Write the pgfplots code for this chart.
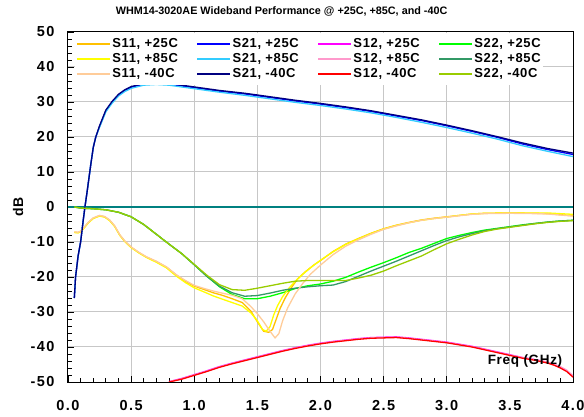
\documentclass[border=0pt]{standalone}
\usepackage{fontspec}
\setmainfont{Liberation Sans}
\newfontfamily\lsfont{Liberation Sans}[LetterSpace=5]
\newfontfamily\tkfont{Liberation Sans}[LetterSpace=10]
\usepackage{pgfplots}
\pgfplotsset{compat=1.18}
\definecolor{sAa}{HTML}{FFC000}
\definecolor{sAb}{HTML}{FFFF00}
\definecolor{sAc}{HTML}{FFCC99}
\definecolor{sBa}{HTML}{0000FF}
\definecolor{sBb}{HTML}{33CCFF}
\definecolor{sBc}{HTML}{000080}
\definecolor{sCa}{HTML}{FF00FF}
\definecolor{sCb}{HTML}{FF99CC}
\definecolor{sCc}{HTML}{FF0000}
\definecolor{sDa}{HTML}{00FF00}
\definecolor{sDb}{HTML}{339966}
\definecolor{sDc}{HTML}{99CC00}
\definecolor{teal0}{HTML}{008080}
\begin{document}
\begin{tikzpicture}
\begin{axis}[
  at={(0,0)}, anchor=south west,
  scale only axis, width=505bp, height=350bp,
  xmin=0, xmax=4, ymin=-50, ymax=50,
  xtick={0,0.5,...,4}, ytick={-50,-40,...,50},
  minor x tick num=4, minor y tick num=4,
  tick pos=left, tick align=inside,
  major tick length=6bp, minor tick length=4bp,
  every tick/.style={black, line width=0.8bp},
  axis line style={black, line width=1bp},
  grid=major, major grid style={color=black!22, line width=1bp},
  /pgf/number format/assume math mode=true,
  tick label style={font=\tkfont\fontsize{14.5bp}{16bp}\selectfont\bfseries},
  yticklabel style={xshift=-10bp},
  xticklabel style={yshift=-15bp, /pgf/number format/fixed, /pgf/number format/fixed zerofill, /pgf/number format/precision=1},
  title={WHM14-3020AE Wideband Performance @ +25C, +85C, and -40C},
  title style={at={(axis description cs:0.423,1)}, anchor=base, yshift=12bp, inner sep=0pt, font=\fontsize{10.8bp}{13bp}\selectfont\bfseries},
  xlabel={Freq (GHz)},
  xlabel style={at={(axis description cs:0.905,0.06)}, anchor=center, inner sep=0pt, font=\lsfont\fontsize{13.5bp}{16bp}\selectfont\bfseries},
  ylabel={dB},
  ylabel style={at={(axis description cs:-0.099,0.5)}, anchor=center, inner sep=0pt, font=\lsfont\fontsize{14bp}{16bp}\selectfont\bfseries},
  legend columns=4,
  legend cell align=left,
  legend image code/.code={\draw[#1, line width=1.6bp] (0bp,0bp) -- (33bp,0bp);},
  legend style={at={(0,1)}, anchor=north west, xshift=7bp, yshift=-1bp, draw=none, fill=white,
    inner xsep=1bp, inner ysep=3.5bp, row sep=0.5bp,
    font=\lsfont\fontsize{13bp}{15bp}\selectfont\bfseries,
    nodes={inner sep=1.5bp, text height=9.5bp, text depth=2bp},
    /tikz/every even column/.append style={column sep=17bp}},
  every axis plot/.append style={line width=1.3bp},
]
\addplot[teal0, line width=1.2bp, forget plot] coordinates {(0,0)(4,0)};
% ---- +25C
\addplot[sAa] coordinates {(0.05,-7.2)(0.08,-7.3)(0.1,-7.0)(0.13,-5.8)(0.16,-4.5)(0.2,-3.2)(0.25,-2.5)(0.29,-2.8)(0.33,-3.8)(0.37,-5.5)(0.41,-8.0)(0.45,-9.8)(0.5,-11.5)(0.56,-13.0)(0.62,-14.3)(0.7,-15.6)(0.78,-17.2)(0.86,-19.5)(0.93,-21.2)(1.0,-22.6)(1.08,-23.6)(1.15,-24.5)(1.22,-25.2)(1.3,-26.2)(1.38,-27.3)(1.45,-29.8)(1.5,-32.8)(1.55,-35.5)(1.59,-35.8)(1.62,-35.0)(1.65,-32.0)(1.68,-29.0)(1.72,-26.0)(1.77,-23.0)(1.82,-20.5)(1.88,-18.5)(1.95,-16.5)(2.0,-15.3)(2.1,-12.7)(2.2,-10.6)(2.3,-9.0)(2.4,-7.5)(2.5,-6.2)(2.6,-5.2)(2.7,-4.4)(2.8,-3.7)(2.9,-3.2)(3.0,-2.8)(3.1,-2.4)(3.2,-2.0)(3.3,-1.8)(3.5,-1.7)(3.7,-1.8)(3.8,-1.9)(3.9,-2.2)(4.0,-2.5)};
\addlegendentry{S11, +25C}
\addplot[sBa] coordinates {(0.05,-26)(0.06,-20)(0.08,-14)(0.10,-10)(0.12,-4)(0.134,0)(0.15,4)(0.165,8)(0.18,12)(0.2,17)(0.22,20)(0.25,23)(0.3,27.5)(0.35,30)(0.4,32)(0.45,33.3)(0.5,34.2)(0.6,35.1)(0.7,35.3)(0.8,35.1)(0.9,34.6)(1.0,34.1)(1.2,33.1)(1.4,32.3)(1.6,31.3)(1.8,30.3)(2.0,29.4)(2.2,28.4)(2.4,27.3)(2.6,26.0)(2.8,24.7)(3.0,23.2)(3.2,21.6)(3.4,19.9)(3.6,18.0)(3.8,16.4)(4.0,15.0)};
\addlegendentry{S21, +25C}
\addplot[sCa] coordinates {(0.8,-49.9)(0.9,-49.0)(1.0,-47.9)(1.1,-46.8)(1.2,-45.6)(1.3,-44.6)(1.4,-43.7)(1.5,-42.8)(1.6,-41.9)(1.7,-41.0)(1.8,-40.2)(1.9,-39.5)(2.0,-38.9)(2.1,-38.4)(2.2,-38.0)(2.3,-37.6)(2.4,-37.3)(2.5,-37.2)(2.6,-37.1)(2.7,-37.4)(2.8,-37.8)(2.9,-38.2)(3.0,-38.6)(3.1,-39.2)(3.2,-39.8)(3.3,-40.6)(3.4,-41.4)(3.5,-42.2)(3.6,-43.0)(3.7,-43.6)(3.8,-44.4)(3.85,-45.0)(3.9,-45.8)(3.95,-46.8)(4.0,-48.4)};
\addlegendentry{S12, +25C}
\addplot[sDa] coordinates {(0.05,0)(0.1,-0.3)(0.2,-0.5)(0.3,-0.8)(0.4,-1.5)(0.5,-2.8)(0.6,-5.0)(0.7,-7.8)(0.8,-10.6)(0.9,-13.3)(1.0,-16.5)(1.1,-19.8)(1.2,-22.8)(1.3,-25.0)(1.4,-26.2)(1.5,-26.2)(1.6,-25.5)(1.7,-24.5)(1.8,-23.3)(1.9,-22.5)(2.0,-22.0)(2.1,-21.2)(2.2,-20.1)(2.3,-18.6)(2.4,-17.2)(2.5,-15.9)(2.6,-14.5)(2.7,-13.0)(2.8,-11.8)(2.9,-10.4)(3.0,-9.0)(3.1,-8.1)(3.2,-7.3)(3.3,-6.6)(3.4,-6.1)(3.5,-5.6)(3.6,-5.1)(3.7,-4.7)(3.8,-4.3)(3.9,-4.0)(4.0,-3.8)};
\addlegendentry{S22, +25C}
% ---- +85C
\addplot[sAb] coordinates {(0.05,-7.3)(0.08,-7.4)(0.1,-7.1)(0.13,-5.9)(0.16,-4.6)(0.2,-3.3)(0.25,-2.6)(0.29,-2.9)(0.33,-3.9)(0.37,-5.6)(0.41,-8.1)(0.45,-9.9)(0.5,-11.6)(0.56,-13.1)(0.62,-14.4)(0.7,-15.8)(0.78,-17.4)(0.86,-19.8)(0.93,-21.6)(1.0,-23.1)(1.08,-24.3)(1.15,-25.4)(1.22,-26.3)(1.3,-27.3)(1.38,-28.3)(1.45,-30.3)(1.5,-32.5)(1.54,-35.0)(1.57,-35.5)(1.6,-34.2)(1.63,-30.8)(1.66,-28.2)(1.7,-25.6)(1.75,-23.2)(1.8,-21.2)(1.86,-19.2)(1.93,-17.1)(2.0,-15.2)(2.1,-12.8)(2.2,-10.7)(2.3,-9.1)(2.4,-7.6)(2.5,-6.3)(2.6,-5.3)(2.7,-4.5)(2.8,-3.8)(2.9,-3.3)(3.0,-2.9)(3.1,-2.4)(3.2,-2.0)(3.3,-1.8)(3.5,-1.7)(3.7,-1.7)(3.8,-1.7)(3.9,-1.9)(4.0,-2.1)};
\addlegendentry{S11, +85C}
\addplot[sBb] coordinates {(0.05,-26)(0.06,-20)(0.08,-14)(0.10,-10)(0.12,-4)(0.134,0)(0.15,4)(0.165,8)(0.18,12)(0.2,17)(0.22,20)(0.25,22.8)(0.3,27.2)(0.35,29.7)(0.4,31.7)(0.45,33.0)(0.5,33.9)(0.6,34.8)(0.7,35.0)(0.8,34.8)(0.9,34.3)(1.0,33.8)(1.2,32.8)(1.4,31.9)(1.6,30.9)(1.8,29.9)(2.0,29.0)(2.2,28.0)(2.4,26.9)(2.6,25.6)(2.8,24.2)(3.0,22.7)(3.2,21.1)(3.4,19.4)(3.6,17.5)(3.8,15.9)(4.0,14.4)};
\addlegendentry{S21, +85C}
\addplot[sCb] coordinates {(0.8,-49.9)(0.9,-49.1)(1.0,-48.0)(1.1,-46.9)(1.2,-45.7)(1.3,-44.7)(1.4,-43.8)(1.5,-42.9)(1.6,-42.0)(1.7,-41.1)(1.8,-40.3)(1.9,-39.6)(2.0,-39.0)(2.1,-38.5)(2.2,-38.1)(2.3,-37.7)(2.4,-37.4)(2.5,-37.3)(2.6,-37.2)(2.7,-37.5)(2.8,-37.9)(2.9,-38.3)(3.0,-38.7)(3.1,-39.3)(3.2,-39.9)(3.3,-40.7)(3.4,-41.5)(3.5,-42.3)(3.6,-43.0)(3.7,-43.6)(3.8,-44.3)(3.85,-44.9)(3.9,-45.6)(3.95,-46.6)(4.0,-48.2)};
\addlegendentry{S12, +85C}
\addplot[sDb] coordinates {(0.05,0)(0.1,-0.3)(0.2,-0.5)(0.3,-0.8)(0.4,-1.5)(0.5,-2.8)(0.6,-5.0)(0.7,-7.8)(0.8,-10.6)(0.9,-13.3)(1.0,-16.5)(1.1,-19.8)(1.2,-22.6)(1.3,-24.5)(1.4,-25.5)(1.5,-25.3)(1.6,-24.6)(1.7,-23.8)(1.8,-23.2)(1.9,-22.8)(2.0,-22.5)(2.1,-22.3)(2.2,-21.3)(2.3,-19.8)(2.4,-18.3)(2.5,-16.9)(2.6,-15.5)(2.7,-14.0)(2.8,-12.5)(2.9,-11.0)(3.0,-9.6)(3.1,-8.5)(3.2,-7.6)(3.3,-6.8)(3.4,-6.2)(3.5,-5.7)(3.6,-5.2)(3.7,-4.7)(3.8,-4.3)(3.9,-4.0)(4.0,-3.8)};
\addlegendentry{S22, +85C}
% ---- -40C
\addplot[sAc] coordinates {(0.05,-7.1)(0.08,-7.2)(0.1,-6.9)(0.13,-5.7)(0.16,-4.4)(0.2,-3.1)(0.25,-2.4)(0.29,-2.7)(0.33,-3.7)(0.37,-5.4)(0.41,-7.9)(0.45,-9.7)(0.5,-11.4)(0.56,-12.9)(0.62,-14.2)(0.7,-15.5)(0.78,-17.1)(0.86,-19.4)(0.93,-21.0)(1.0,-22.4)(1.08,-23.3)(1.15,-24.0)(1.22,-24.6)(1.3,-25.2)(1.38,-26.2)(1.45,-28.5)(1.5,-30.5)(1.55,-32.8)(1.6,-35.5)(1.64,-37.4)(1.67,-36.2)(1.7,-32.5)(1.74,-28.8)(1.8,-24.8)(1.86,-21.8)(1.92,-19.2)(2.0,-16.6)(2.1,-13.6)(2.2,-11.2)(2.3,-9.4)(2.4,-7.8)(2.5,-6.4)(2.6,-5.4)(2.7,-4.5)(2.8,-3.8)(2.9,-3.3)(3.0,-2.9)(3.1,-2.5)(3.2,-2.1)(3.3,-1.9)(3.5,-1.8)(3.7,-1.9)(3.8,-2.0)(3.9,-2.3)(4.0,-2.6)};
\addlegendentry{S11, -40C}
\addplot[sBc] coordinates {(0.05,-26)(0.06,-20)(0.08,-14)(0.10,-10)(0.12,-4)(0.134,0)(0.15,4)(0.165,8)(0.18,12)(0.2,17)(0.22,20)(0.25,23.2)(0.3,27.7)(0.35,30.2)(0.4,32.2)(0.45,33.5)(0.5,34.4)(0.6,35.3)(0.7,35.5)(0.8,35.3)(0.9,34.8)(1.0,34.3)(1.2,33.3)(1.4,32.5)(1.6,31.5)(1.8,30.5)(2.0,29.6)(2.2,28.6)(2.4,27.5)(2.6,26.2)(2.8,24.9)(3.0,23.4)(3.2,21.8)(3.4,20.1)(3.6,18.3)(3.8,16.7)(4.0,15.4)};
\addlegendentry{S21, -40C}
\addplot[sCc] coordinates {(0.8,-50)(0.9,-49.2)(1.0,-48.1)(1.1,-47.0)(1.2,-45.8)(1.3,-44.8)(1.4,-43.9)(1.5,-43.0)(1.6,-42.1)(1.7,-41.2)(1.8,-40.4)(1.9,-39.7)(2.0,-39.1)(2.1,-38.6)(2.2,-38.2)(2.3,-37.8)(2.4,-37.5)(2.5,-37.4)(2.6,-37.3)(2.7,-37.6)(2.8,-38.0)(2.9,-38.4)(3.0,-38.8)(3.1,-39.4)(3.2,-40.0)(3.3,-40.8)(3.4,-41.6)(3.5,-42.4)(3.6,-43.2)(3.7,-43.8)(3.8,-44.6)(3.85,-45.2)(3.9,-46.0)(3.95,-47.0)(4.0,-48.6)};
\addlegendentry{S12, -40C}
\addplot[sDc] coordinates {(0.05,0)(0.1,-0.3)(0.2,-0.5)(0.3,-0.8)(0.4,-1.5)(0.5,-2.8)(0.6,-5.0)(0.7,-7.8)(0.8,-10.6)(0.9,-13.3)(1.0,-16.4)(1.1,-19.5)(1.2,-22.2)(1.3,-23.6)(1.4,-23.8)(1.5,-23.2)(1.6,-22.5)(1.7,-21.8)(1.8,-21.2)(1.9,-21.0)(2.0,-21.0)(2.2,-21.0)(2.3,-20.3)(2.4,-19.5)(2.5,-18.3)(2.6,-16.8)(2.7,-15.4)(2.8,-14.0)(2.9,-12.2)(3.0,-10.5)(3.1,-9.2)(3.2,-8.0)(3.3,-7.0)(3.4,-6.3)(3.5,-5.8)(3.6,-5.3)(3.7,-4.8)(3.8,-4.4)(3.9,-4.1)(4.0,-3.9)};
\addlegendentry{S22, -40C}
\end{axis}
\pgfresetboundingbox
\useasboundingbox (-68bp,-35bp) rectangle (516bp,382bp);
\end{tikzpicture}
\end{document}
